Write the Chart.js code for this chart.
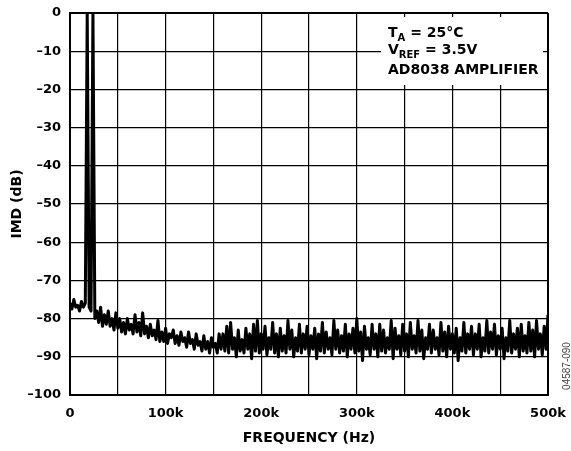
<!DOCTYPE html>
<html>
<head>
<meta charset="utf-8">
<script src="https://cdn.jsdelivr.net/npm/chart.js@4/dist/chart.umd.min.js"></script>
<style>
  body { margin: 0; background: #fff; }
  canvas { display: block; }
</style>
</head>
<body>
<canvas id="imdChart" width="571" height="451"></canvas>
<script>
// FFT samples, one every 2 kHz from 0 to 500 kHz
var freqStep = 2000;
var imdDb = [
  -76, -77.5, -75, -77, -76.5, -78, -75.5, -77, -76, 0,
  -77, -78, 0, -80, -78, -81, -77, -82, -79, -81.5,
  -78, -82, -80, -83, -78.5, -82.5, -80, -83.5, -81, -84,
  -80, -83, -81.5, -84, -79, -83.5, -81, -84.5, -78.5, -84,
  -82, -85, -81.5, -84.5, -83, -85.5, -80.5, -86, -83.5, -86,
  -82.5, -86.5, -84, -85, -83, -86.5, -84.5, -87, -83.5, -86,
  -85, -87.5, -83.5, -86.5, -85.5, -88, -84, -87, -86, -88.5,
  -84.5, -88, -86, -89, -85, -87.5, -86.5, -89, -84, -88,
  -84, -88.5, -82, -89, -81, -88, -85, -90, -83, -88.5,
  -85.5, -89, -82.5, -88, -84, -90.5, -81.5, -88.5, -80.5, -89,
  -84, -88, -82, -89.5, -85, -88, -81, -89, -84, -90,
  -82.5, -88.5, -84.5, -89, -80.5, -88, -83, -90, -85, -88.5,
  -81.5, -89, -84, -88, -82, -89.5, -84.5, -88, -82.5, -90.5,
  -84, -88.5, -81, -89, -83.5, -88, -85, -89.5, -80.5, -88,
  -83, -89, -84.5, -88.5, -81.5, -90, -84, -88, -82.5, -89,
  -80, -88.5, -83.5, -91, -82, -88, -85, -89.5, -81.5, -88,
  -84, -90, -81.5, -88.5, -83, -89, -85, -88, -80.5, -90.5,
  -82.5, -88, -84.5, -89.5, -81.5, -88.5, -84, -90, -81, -88,
  -84.5, -89, -80.5, -88.5, -83, -90.5, -85, -88, -81.5, -89,
  -83, -88, -85, -89.5, -81, -88.5, -83.5, -90, -82, -88,
  -84, -89, -82.5, -91, -85, -88.5, -81, -89, -84, -88,
  -82, -89.5, -84, -88, -81.5, -90, -85, -88.5, -80.5, -89,
  -83.5, -88, -81.5, -89.5, -84.5, -88, -82.5, -90.5, -85, -88.5,
  -80.5, -89, -84, -88, -82.5, -90, -81.5, -88.5, -84.5, -89,
  -81, -88.5, -83, -90, -80.5, -88, -84, -89.5, -82, -88,
  -79
];
var xTickLabels = ["0", "100k", "200k", "300k", "400k", "500k"];
var yMin = -100, yMax = 0;
var xTitle = "FREQUENCY (Hz)";
var yTitle = "IMD (dB)";
var figureId = "04587-090";

var points = imdDb.map(function(v, i) {
  return { x: i * freqStep, y: v };
});

var tickFont = { family: "DejaVu Sans", weight: "bold", size: 13 };

// white box + labels drawn straight on the canvas
var extras = {
  id: "extras",
  beforeDatasetsDraw: function(chart) {
    var ctx = chart.ctx;
    ctx.save();
    ctx.fillStyle = "#fff";
    ctx.fillRect(381, 17, 162, 68);
    ctx.restore();
  },
  afterDraw: function(chart) {
    var ctx = chart.ctx, a = chart.chartArea;
    ctx.save();
    ctx.fillStyle = "#000";
    ctx.textBaseline = "alphabetic";
    ctx.textAlign = "left";

    var big = 'bold 14px "DejaVu Sans"';
    var sub = 'bold 10px "DejaVu Sans"';
    var x = 388;
    ctx.font = big;
    ctx.fillText("T", x, 37);
    x += ctx.measureText("T").width;
    ctx.font = sub;
    ctx.fillText("A", x, 41);
    x += ctx.measureText("A").width;
    ctx.font = big;
    ctx.fillText(" = 25\u00B0C", x, 37);

    x = 388;
    ctx.fillText("V", x, 54);
    x += ctx.measureText("V").width;
    ctx.font = sub;
    ctx.fillText("REF", x, 58);
    x += ctx.measureText("REF").width;
    ctx.font = big;
    ctx.fillText(" = 3.5V", x, 54);

    ctx.fillText("AD8038 AMPLIFIER", 388, 74);

    ctx.textAlign = "center";
    ctx.textBaseline = "middle";
    ctx.fillText(xTitle, (a.left + a.right) / 2, 438);

    ctx.save();
    ctx.translate(17, (a.top + a.bottom) / 2);
    ctx.rotate(-Math.PI / 2);
    ctx.fillText(yTitle, 0, 0);
    ctx.restore();

    ctx.save();
    ctx.translate(567, 366);
    ctx.rotate(-Math.PI / 2);
    ctx.font = '10px "Liberation Sans"';
    ctx.fillStyle = "#444";
    ctx.fillText(figureId, 0, 0);
    ctx.restore();

    ctx.restore();
  }
};

new Chart("imdChart", {
  type: "line",
  data: {
    datasets: [{
      data: points,
      borderColor: "#000",
      borderWidth: 3,
      borderJoinStyle: "round",
      pointRadius: 0,
      tension: 0,
      fill: false
    }]
  },
  options: {
    responsive: false,
    animation: false,
    layout: { padding: { left: 0, top: 13, right: 23, bottom: 0 } },
    plugins: { legend: { display: false }, tooltip: { enabled: false } },
    scales: {
      x: {
        type: "linear",
        min: 0,
        max: 500000,
        afterFit: function(s) {
          s.height = 56;
          s.paddingLeft = 0;
          s.paddingRight = 0;
        },
        ticks: {
          stepSize: 50000,
          autoSkip: false,
          maxRotation: 0,
          padding: 11,
          color: "#000",
          font: tickFont,
          callback: function(v) {
            return v % 100000 === 0 ? xTickLabels[v / 100000] : "";
          }
        },
        grid: {
          color: "#000",
          lineWidth: function(c) {
            return (c.tick && (c.tick.value === 0 || c.tick.value === 500000)) ? 2 : 1.2;
          },
          drawTicks: false
        },
        border: { color: "#000", width: 2 }
      },
      y: {
        min: yMin,
        max: yMax,
        afterFit: function(s) {
          s.width = 70;
          s.paddingTop = 0;
          s.paddingBottom = 0;
        },
        ticks: {
          stepSize: 10,
          padding: 9,
          color: "#000",
          font: tickFont,
          callback: function(v) {
            return v === 0 ? "0" : "\u2013" + Math.abs(v);
          }
        },
        grid: {
          color: "#000",
          lineWidth: function(c) {
            return (c.tick && (c.tick.value === yMin || c.tick.value === yMax)) ? 2 : 1.2;
          },
          drawTicks: false
        },
        border: { color: "#000", width: 2 }
      }
    }
  },
  plugins: [extras]
});
</script>
</body>
</html>
